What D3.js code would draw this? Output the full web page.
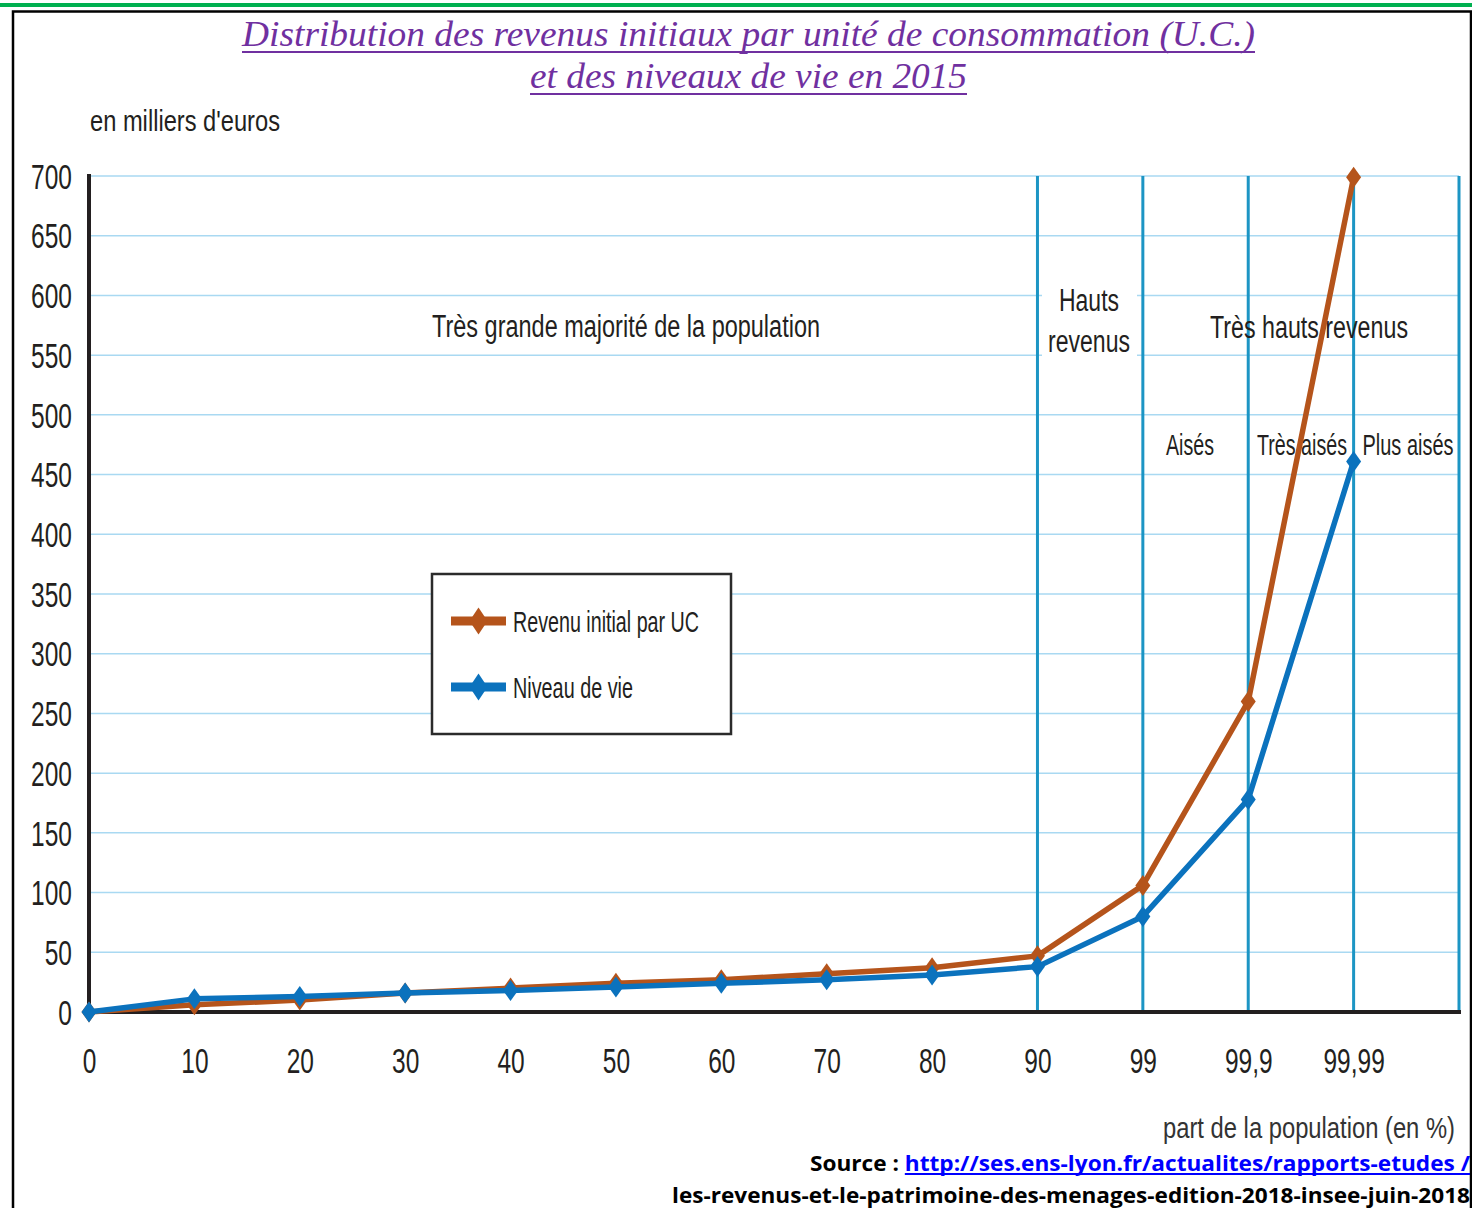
<!DOCTYPE html>
<html>
<head>
<meta charset="utf-8">
<script src="https://cdn.jsdelivr.net/npm/d3@7"></script>
<style>
  html, body { margin: 0; padding: 0; background: #fff; }
  svg { display: block; }
  text { font-family: "Liberation Sans", Arial, sans-serif; fill: #231f20; }
</style>
</head>
<body>
<svg id="chart" width="1472" height="1208"></svg>
<script>
// Percentiles of the population (x categories)
const xLabels = ["0", "10", "20", "30", "40", "50", "60", "70", "80", "90", "99", "99,9", "99,99"];
// Thousands of euros per consumption unit
const revenuInitial = [0, 6, 10, 16, 20, 24, 27, 32, 37, 47, 106, 260, 699];
const niveauDeVie   = [0, 11, 13, 16, 18, 21, 24, 27, 31, 38, 80, 178, 461];
const yTicks = [0, 50, 100, 150, 200, 250, 300, 350, 400, 450, 500, 550, 600, 650, 700];
// Category boundaries drawn as strong vertical rules
const boundaryCats = ["90", "99", "99,9", "99,99", "end"];
const seriesNames = ["Revenu initial par UC", "Niveau de vie"];

const ORANGE = "#b5541b";
const BLUE = "#0b72bd";
const VGRID = "#1c95c4";
const HGRID = "#a9d9f2";
const INK = "#231f20";
const PURPLE = "#7030a0";

const svg = d3.select("#chart");

// Shrink a text's glyphs horizontally to mimic a condensed face
function condense(sel, k) {
  sel.each(function () {
    const n = this.getComputedTextLength();
    d3.select(this).attr("textLength", n * k).attr("lengthAdjust", "spacingAndGlyphs");
  });
}
function fitWidth(sel, w) {
  sel.attr("textLength", w).attr("lengthAdjust", "spacingAndGlyphs");
}
// Solid underline under characters [from, to) of a text element
function underline(textNode, from, to, yPos, color, width) {
  const x0 = textNode.getStartPositionOfChar(from).x;
  const x1 = textNode.getEndPositionOfChar(to - 1).x;
  svg.append("line").attr("x1", x0).attr("x2", x1).attr("y1", yPos).attr("y2", yPos)
    .attr("stroke", color).attr("stroke-width", width);
}

// Page decorations: green rule and black frame
svg.append("rect").attr("x", 0).attr("y", 3).attr("width", 1472).attr("height", 4).attr("fill", "#00b050");
svg.append("path").attr("d", "M13,1210 V11.5 H1471 V1210")
  .attr("fill", "none").attr("stroke", "#000").attr("stroke-width", 2.5);

// Title
const titleLines = [
  { text: "Distribution des revenus initiaux par unité de consommation (U.C.)", y: 46, w: 1013 },
  { text: "et des niveaux de vie en 2015", y: 88, w: 437 }
];
titleLines.forEach(t => {
  const el = svg.append("text").attr("x", 748.5).attr("y", t.y).attr("text-anchor", "middle")
    .style("font-family", "'Liberation Serif', serif").style("fill", PURPLE).style("font-style", "italic")
    .style("font-size", "36px")
    .text(t.text).call(fitWidth, t.w);
  underline(el.node(), 0, t.text.length, t.y + 6, PURPLE, 2.2);
});

// Scales
const plotLeft = 89, plotRight = 1459, plotTop = 176, plotBottom = 1012;
const x = d3.scalePoint().domain([...xLabels, "end"]).range([plotLeft, plotRight]);
const y = d3.scaleLinear().domain([0, 700]).range([plotBottom, plotTop]);

// Horizontal grid
svg.append("g").selectAll("line").data(yTicks.filter(d => d > 0)).join("line")
  .attr("x1", plotLeft).attr("x2", plotRight)
  .attr("y1", d => y(d)).attr("y2", d => y(d))
  .attr("stroke", HGRID).attr("stroke-width", 1.5);

// Vertical boundaries
svg.append("g").selectAll("line").data(boundaryCats).join("line")
  .attr("x1", d => x(d)).attr("x2", d => x(d))
  .attr("y1", plotTop).attr("y2", plotBottom)
  .attr("stroke", VGRID).attr("stroke-width", 3);

// Zone annotations
const ann = svg.append("g").style("font-size", "31px");
ann.append("text").attr("x", 626).attr("y", 326).attr("dy", "0.35em").attr("text-anchor", "middle")
  .text("Très grande majorité de la population").call(fitWidth, 388);
ann.append("rect").attr("x", 1042).attr("y", 282).attr("width", 95).attr("height", 76).attr("fill", "#fff");
ann.append("text").attr("x", 1089).attr("y", 300).attr("dy", "0.35em").attr("text-anchor", "middle")
  .text("Hauts").call(fitWidth, 60);
ann.append("text").attr("x", 1089).attr("y", 341).attr("dy", "0.35em").attr("text-anchor", "middle")
  .text("revenus").call(fitWidth, 82);
ann.append("text").attr("x", 1309).attr("y", 327).attr("dy", "0.35em").attr("text-anchor", "middle")
  .text("Très hauts revenus").call(fitWidth, 198);
const sub = svg.append("g").style("font-size", "29px");
sub.append("text").attr("x", 1190).attr("y", 445).attr("dy", "0.35em").attr("text-anchor", "middle")
  .text("Aisés").call(fitWidth, 48);
sub.append("text").attr("x", 1302).attr("y", 445).attr("dy", "0.35em").attr("text-anchor", "middle")
  .text("Très aisés").call(fitWidth, 90);
sub.append("text").attr("x", 1408).attr("y", 445).attr("dy", "0.35em").attr("text-anchor", "middle")
  .text("Plus aisés").call(fitWidth, 91);

// Axes
const yAxis = svg.append("g").attr("transform", `translate(${plotLeft},0)`)
  .call(d3.axisLeft(y).tickValues(yTicks).tickSize(0).tickPadding(17));
yAxis.select(".domain").remove();
yAxis.selectAll("text").attr("dy", "0.35em").style("font-size", "35px").style("font-family", "'Liberation Sans', Arial, sans-serif").attr("fill", INK)
  .call(condense, 0.70);

const xAxis = svg.append("g").attr("transform", `translate(0,${plotBottom})`)
  .call(d3.axisBottom(x).tickValues(xLabels).tickSize(0));
xAxis.select(".domain").remove();
xAxis.selectAll("text").attr("y", 49).attr("dy", "0.35em").style("font-size", "35px").style("font-family", "'Liberation Sans', Arial, sans-serif").attr("fill", INK)
  .call(condense, 0.70);

svg.append("line").attr("x1", plotLeft).attr("x2", plotLeft).attr("y1", plotTop - 2).attr("y2", plotBottom + 2)
  .attr("stroke", INK).attr("stroke-width", 4);
svg.append("line").attr("x1", plotLeft - 2).attr("x2", plotRight + 2).attr("y1", plotBottom).attr("y2", plotBottom)
  .attr("stroke", INK).attr("stroke-width", 4);

// Axis titles
svg.append("text").attr("x", 90).attr("y", 121).attr("dy", "0.35em").style("font-size", "29px")
  .text("en milliers d'euros").call(fitWidth, 190);
svg.append("text").attr("x", 1455).attr("y", 1127).attr("dy", "0.35em").attr("text-anchor", "end")
  .style("font-size", "30px").style("fill", "#333")
  .text("part de la population (en %)").call(fitWidth, 292);

// Series
const diamond = (hw, hh) => `M0,${-hh} L${hw},0 L0,${hh} L${-hw},0 Z`;
const series = [
  { name: seriesNames[0], values: revenuInitial, color: ORANGE },
  { name: seriesNames[1], values: niveauDeVie, color: BLUE }
];
const line = d3.line().x((d, i) => x(xLabels[i])).y(d => y(d));
series.forEach(s => {
  const g = svg.append("g");
  g.append("path").attr("d", line(s.values)).attr("fill", "none")
    .attr("stroke", s.color).attr("stroke-width", 5.5).attr("stroke-linejoin", "round");
  g.selectAll("path.m").data(s.values).join("path").attr("class", "m")
    .attr("transform", (d, i) => `translate(${x(xLabels[i])},${y(d)})`)
    .attr("d", diamond(7.5, 10.5)).attr("fill", s.color);
});

// Legend
const lg = svg.append("g");
lg.append("rect").attr("x", 432).attr("y", 574).attr("width", 299).attr("height", 160)
  .attr("fill", "#fff").attr("stroke", "#2b2b2b").attr("stroke-width", 2.5);
series.forEach((s, i) => {
  const cy = 621 + i * 66;
  lg.append("line").attr("x1", 451).attr("x2", 506).attr("y1", cy).attr("y2", cy)
    .attr("stroke", s.color).attr("stroke-width", 9);
  lg.append("path").attr("transform", `translate(478.5,${cy})`).attr("d", diamond(9, 13.5)).attr("fill", s.color);
  lg.append("text").attr("x", 513).attr("y", cy).attr("dy", "0.35em").style("font-size", "30px")
    .text(s.name).call(fitWidth, i === 0 ? 186 : 120);
});

// Source
const srcLabel = "Source : ";
const srcLink = "http://ses.ens-lyon.fr/actualites/rapports-etudes /";
const s1 = svg.append("text").attr("x", 1470).attr("y", 1171).attr("text-anchor", "end")
  .style("font-family", "'Open Sans', sans-serif").style("font-weight", "bold").style("font-size", "22px")
  .style("fill", "#000");
s1.append("tspan").text(srcLabel);
s1.append("tspan").style("fill", "#0000ff").text(srcLink);
s1.call(fitWidth, 660);
underline(s1.node(), srcLabel.length, srcLabel.length + srcLink.length, 1174, "#0000ff", 1.8);
svg.append("text").attr("x", 1470).attr("y", 1203).attr("text-anchor", "end")
  .style("font-family", "'Open Sans', sans-serif").style("font-weight", "bold").style("font-size", "22px")
  .style("fill", "#000")
  .text("les-revenus-et-le-patrimoine-des-menages-edition-2018-insee-juin-2018")
  .call(fitWidth, 798);
</script>
</body>
</html>
